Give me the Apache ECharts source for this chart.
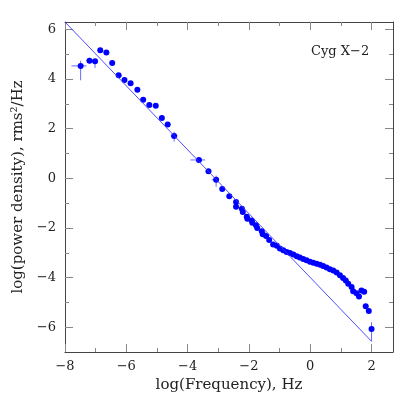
<!DOCTYPE html>
<html>
<head>
<meta charset="utf-8">
<script src="https://cdn.jsdelivr.net/npm/echarts@6/dist/echarts.min.js"></script>
<style>html,body{margin:0;padding:0;background:#fff}#c{width:415px;height:415px}</style>
</head>
<body>
<div id="c"></div>
<script>
// Data (log frequency, log power density)
const logFreq = [-7.49,-7.20,-7.02,-6.85,-6.65,-6.46,-6.25,-6.06,-5.86,-5.64,-5.45,-5.25,-5.04,-4.84,-4.65,-4.44,-3.63,-3.32,-3.07,-2.87,-2.64,-2.42,-2.42,-2.23,-2.20,-2.07,-2.05,-1.91,-1.89,-1.77,-1.73,-1.58,-1.55,-1.44,-1.34,-1.21,-1.09,-0.99,-0.88,-0.77,-0.66,-0.55,-0.44,-0.34,-0.23,-0.12,-0.01,0.10,0.21,0.32,0.42,0.53,0.64,0.75,0.86,0.97,1.07,1.16,1.24,1.35,1.40,1.51,1.59,1.67,1.76,1.81,1.91,2.00];
const logPower = [4.53,4.74,4.72,5.16,5.07,4.65,4.15,3.96,3.83,3.57,3.17,2.95,2.92,2.43,2.17,1.71,0.74,0.28,-0.06,-0.43,-0.72,-0.95,-1.15,-1.23,-1.36,-1.55,-1.63,-1.70,-1.79,-1.89,-2.00,-2.13,-2.25,-2.32,-2.49,-2.67,-2.72,-2.83,-2.90,-2.97,-3.01,-3.07,-3.14,-3.19,-3.25,-3.30,-3.36,-3.40,-3.44,-3.48,-3.53,-3.59,-3.66,-3.72,-3.80,-3.91,-4.02,-4.12,-4.25,-4.38,-4.55,-4.63,-4.76,-4.52,-4.57,-5.16,-5.35,-6.07];

// Error bars
const errX   = [-7.49,-7.20,-7.02,-4.44,-3.63,-3.32,-3.07,2.00];
const errY   = [4.53,4.74,4.72,1.71,0.74,0.28,-0.06,-6.07];
const errXlo = [-7.79,-7.31,-7.07,-4.55,-3.91,-3.38,-3.21,1.98];
const errXhi = [-7.30,-7.09,-6.97,-4.33,-3.43,-3.26,-3.00,2.02];
const errYlo = [3.95,4.62,4.45,1.48,0.61,0.18,-0.34,-6.57];
const errYhi = [4.74,4.86,4.80,1.87,0.85,0.38,0.11,-5.80];

// Power-law fit line endpoints
const fitX = [-8, 2];
const fitY = [6.3, -6.57];

// Axis ticks
const xMajor = [-8,-6,-4,-2,0,2];
const xMinor = [-7,-5,-3,-1,1];
const yMajor = [-6,-4,-2,0,2,4,6];
const yMinor = [-5,-3,-1,1,3,5];
const xRange = [-8, 2.7];
const yRange = [-7, 6.3];

const FONT = 'DejaVu Serif';
const frame = '#444';
const tickC = '#888';
const fmt = v => (v < 0 ? '\u2212' + Math.abs(v) : String(v));

function xAx(pos, ticks, len, labels, line) {
  return {
    type: 'value', position: pos, min: xRange[0], max: xRange[1],
    splitLine: {show: false},
    axisLine: {show: line, onZero: false, lineStyle: {color: frame, width: 1}},
    axisTick: {show: true, inside: true, length: len, customValues: ticks, lineStyle: {color: tickC}},
    axisLabel: {show: labels, customValues: ticks, formatter: fmt, fontFamily: FONT, fontSize: 13, color: '#222', margin: 8},
    name: labels ? 'log(Frequency), Hz' : '', nameLocation: 'middle', nameGap: 23,
    nameTextStyle: {fontFamily: FONT, fontSize: 15, color: '#222', verticalAlign: 'top'}
  };
}
function yAx(pos, ticks, len, labels, line) {
  return {
    type: 'value', position: pos, min: yRange[0], max: yRange[1],
    splitLine: {show: false},
    axisLine: {show: line, onZero: false, lineStyle: {color: frame, width: 1}},
    axisTick: {show: true, inside: true, length: len, customValues: ticks, lineStyle: {color: tickC}},
    axisLabel: {show: labels, customValues: ticks, formatter: fmt, fontFamily: FONT, fontSize: 13, color: '#222', margin: 9},
    name: labels ? 'log(power density), rms\u00b2/Hz' : '', nameLocation: 'middle', nameGap: 35,
    nameTextStyle: {fontFamily: FONT, fontSize: 15, color: '#222'}
  };
}

const chart = echarts.init(document.getElementById('c'), null, {renderer: 'canvas'});
chart.setOption({
  animation: false,
  backgroundColor: '#fff',
  grid: {left: 65, right: 22, top: 22, bottom: 63, containLabel: false},
  xAxis: [
    xAx('bottom', xMajor, 8, true, true),
    xAx('bottom', xMinor, 4, false, false),
    xAx('top', xMajor, 8, false, true),
    xAx('top', xMinor, 4, false, false)
  ],
  yAxis: [
    yAx('left', yMajor, 8, true, true),
    yAx('left', yMinor, 4, false, false),
    yAx('right', yMajor, 8, false, true),
    yAx('right', yMinor, 4, false, false)
  ],
  graphic: [{
    type: 'text', left: 311, top: 45,
    style: {text: 'Cyg X\u22122', fontFamily: FONT, fontSize: 13, fill: '#222'}
  }],
  series: [
    {
      type: 'line', xAxisIndex: 0, yAxisIndex: 0,
      data: fitX.map((x, i) => [x, fitY[i]]),
      symbol: 'none', clip: true,
      lineStyle: {color: '#3a3aff', width: 0.9}
    },
    {
      type: 'custom', xAxisIndex: 0, yAxisIndex: 0,
      data: errX.map((x, i) => [x, errY[i], errXlo[i], errXhi[i], errYlo[i], errYhi[i]]),
      renderItem: function (params, api) {
        const x = api.value(0), y = api.value(1);
        const a = api.coord([api.value(2), y]), b = api.coord([api.value(3), y]);
        const c = api.coord([x, api.value(4)]), d = api.coord([x, api.value(5)]);
        const st = {stroke: '#6a6aff', lineWidth: 1};
        return {type: 'group', children: [
          {type: 'line', shape: {x1: a[0], y1: a[1], x2: b[0], y2: b[1]}, style: st},
          {type: 'line', shape: {x1: c[0], y1: c[1], x2: d[0], y2: d[1]}, style: st}
        ]};
      }
    },
    {
      type: 'scatter', xAxisIndex: 0, yAxisIndex: 0,
      data: logFreq.map((x, i) => [x, logPower[i]]),
      symbol: 'circle', symbolSize: 6,
      itemStyle: {color: '#0000ff', opacity: 1}
    }
  ]
});
</script>
</body>
</html>
